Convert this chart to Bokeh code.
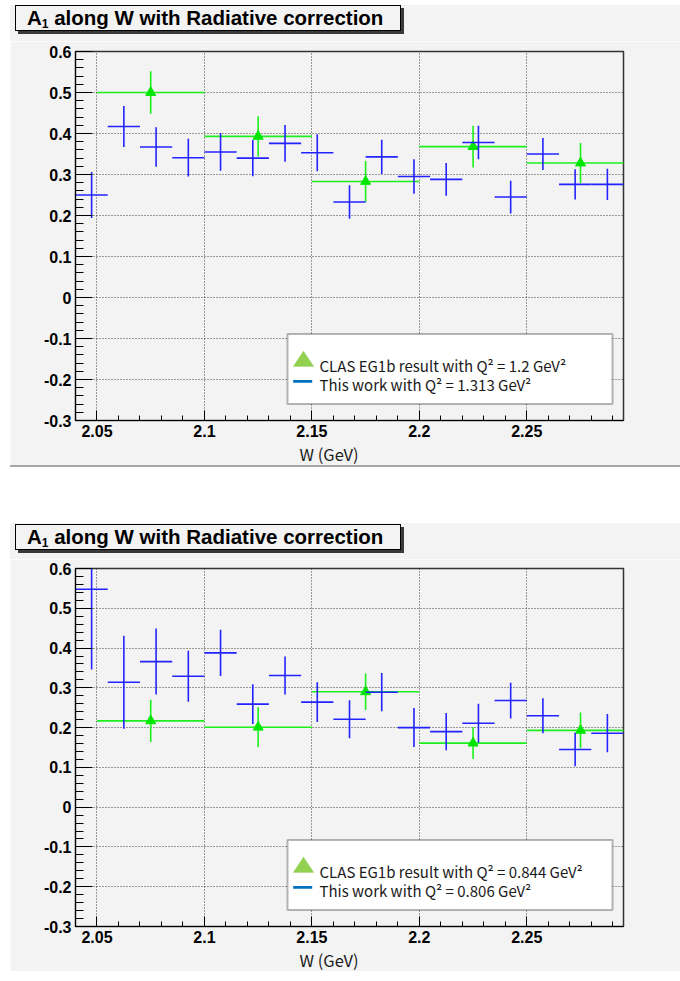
from bokeh.plotting import figure
from bokeh.models import (Label, BoxAnnotation, PolyAnnotation, Div, Spacer,
                          FixedTicker, Range1d, ColumnDataSource, Title)
from bokeh.layouts import column, row
from bokeh.embed import file_html
from bokeh.resources import INLINE

# ---------------- data ----------------
w_fine = [2.0475, 2.0625, 2.0775, 2.0925, 2.1075, 2.1225, 2.1375, 2.1525, 2.1675,
          2.1825, 2.1975, 2.2125, 2.2275, 2.2425, 2.2575, 2.2725, 2.2875]
w_coarse = [2.075, 2.125, 2.175, 2.225, 2.275]
fine_bin_width = 0.015
coarse_bin_width = 0.05

top_work_a1 = [0.250, 0.417, 0.367, 0.341, 0.355, 0.340, 0.376, 0.353, 0.233,
               0.343, 0.295, 0.288, 0.378, 0.245, 0.350, 0.276, 0.276]
top_work_err = [0.056, 0.050, 0.048, 0.046, 0.046, 0.044, 0.045, 0.045, 0.041,
                0.042, 0.042, 0.040, 0.041, 0.040, 0.039, 0.037, 0.038]
top_clas_a1 = [0.500, 0.393, 0.283, 0.368, 0.328]
top_clas_err = [0.052, 0.049, 0.050, 0.051, 0.049]

bot_work_a1 = [0.548, 0.314, 0.366, 0.329, 0.388, 0.259, 0.331, 0.264, 0.221,
               0.289, 0.200, 0.190, 0.211, 0.268, 0.230, 0.145, 0.186]
bot_work_err = [0.202, 0.117, 0.083, 0.064, 0.058, 0.050, 0.048, 0.050, 0.048,
                0.048, 0.049, 0.047, 0.049, 0.045, 0.044, 0.042, 0.048]
bot_clas_a1 = [0.217, 0.201, 0.290, 0.161, 0.193]
bot_clas_err = [0.053, 0.050, 0.046, 0.040, 0.045]

top_legend = ["CLAS EG1b result with Q\u00b2 = 1.2 GeV\u00b2",
              "This work with Q\u00b2 = 1.313 GeV\u00b2"]
bot_legend = ["CLAS EG1b result with Q\u00b2 = 0.844 GeV\u00b2",
              "This work with Q\u00b2 = 0.806 GeV\u00b2"]

title_main = "A"
title_sub = "1"
title_rest = " along W with Radiative correction"
x_label = "W (GeV)"

x_ticks = [2.05, 2.1, 2.15, 2.2, 2.25]
x_tick_labels = ["2.05", "2.1", "2.15", "2.2", "2.25"]
y_ticks = [-0.3, -0.2, -0.1, 0.0, 0.1, 0.2, 0.3, 0.4, 0.5, 0.6]
y_tick_labels = ["-0.3", "-0.2", "-0.1", "0", "0.1", "0.2", "0.3", "0.4", "0.5", "0.6"]
x_min, x_max = 2.04, 2.295
y_min, y_max = -0.3, 0.6

BG = "#f3f3f3"
BLUE = "#2323ff"
GREEN = "#1cf01c"
TICK_FONT = "Liberation Sans"
TEXT_FONT = "Noto Sans CJK KR"
PANEL_W = 670


def make_header(box_top):
    html = (
        '<div style="box-sizing:border-box;position:relative;left:5px;top:%dpx;'
        'width:386px;height:26px;'
        'border:1px solid #000;background:%s;box-shadow:3px 3px 0 #3a3a3a;'
        'padding:0 0 0 11px;font-family:\'Liberation Sans\',Arial,sans-serif;'
        'font-weight:bold;font-size:20.5px;line-height:23px;color:#000;'
        'white-space:nowrap;">%s<span style="font-size:12px;line-height:10px;'
        'position:relative;top:3px;">%s</span>%s</div>'
        % (box_top, BG, title_main, title_sub, title_rest))
    return Div(text=html, width=PANEL_W, height=36,
               styles={"background-color": BG, "margin": "0", "padding": "0"})


def make_panel(work_a1, work_err, clas_a1, clas_err, legend_texts,
               height, top_border, bottom_border):
    p = figure(width=PANEL_W, height=height, output_backend="svg", toolbar_location=None,
               x_range=Range1d(x_min, x_max), y_range=Range1d(y_min, y_max),
               min_border_left=65, min_border_right=57,
               min_border_top=top_border, min_border_bottom=bottom_border)
    p.background_fill_color = BG
    p.border_fill_color = BG
    p.outline_line_color = "#333333"
    p.outline_line_width = 1.5

    minor_x = [round(x_min + 0.01 * i, 3) for i in range(26)]
    minor_y = [round(y_min + 0.02 * i, 3) for i in range(46)]
    p.xaxis.ticker = FixedTicker(ticks=x_ticks, minor_ticks=minor_x)
    p.yaxis.ticker = FixedTicker(ticks=y_ticks, minor_ticks=minor_y)
    p.xaxis.major_label_overrides = dict(zip(x_ticks, x_tick_labels))
    p.yaxis.major_label_overrides = dict(zip(y_ticks, y_tick_labels))

    for ax in (p.xaxis[0], p.yaxis[0]):
        ax.axis_line_color = "black"
        ax.major_tick_line_color = "black"
        ax.minor_tick_line_color = "black"
        ax.major_tick_out = 0
        ax.minor_tick_out = 0
        ax.major_label_text_font = TICK_FONT
        ax.major_label_text_font_style = "bold"
        ax.major_label_text_font_size = "16px"
        ax.major_label_text_color = "black"
    p.yaxis.major_tick_in = 17
    p.yaxis.minor_tick_in = 8
    p.xaxis.major_tick_in = 10
    p.xaxis.minor_tick_in = 5
    p.yaxis.major_label_standoff = 4
    p.xaxis.major_label_standoff = 4

    for g in (p.xgrid[0], p.ygrid[0]):
        g.grid_line_color = "#222222"
        g.grid_line_alpha = 0.85
        g.grid_line_dash = "1 2"
        g.grid_line_width = 1
    p.xgrid.ticker = FixedTicker(ticks=x_ticks)
    p.ygrid.ticker = FixedTicker(ticks=y_ticks)

    # x-axis title, placed left of centre as in the original
    p.add_layout(Title(text=x_label, align="left", offset=224, standoff=0,
                       text_font=TEXT_FONT, text_font_size="16.5px",
                       text_font_style="normal", text_color="#1a1a1a"), "below")

    # CLAS EG1b (green)
    cs = ColumnDataSource(dict(
        x=w_coarse, y=clas_a1,
        x0=[w - coarse_bin_width / 2 for w in w_coarse],
        x1=[w + coarse_bin_width / 2 for w in w_coarse],
        lo=[a - e for a, e in zip(clas_a1, clas_err)],
        hi=[a + e for a, e in zip(clas_a1, clas_err)]))
    p.segment(x0="x0", y0="y", x1="x1", y1="y", source=cs, line_color=GREEN, line_width=1.6)
    p.segment(x0="x", y0="lo", x1="x", y1="hi", source=cs, line_color=GREEN, line_width=1.6)
    p.scatter(x="x", y="y", source=cs, marker="triangle", size=10,
              fill_color="#00e600", line_color="#00e600")

    # This work (blue)
    ws = ColumnDataSource(dict(
        x=w_fine, y=work_a1,
        x0=[w - fine_bin_width / 2 for w in w_fine],
        x1=[w + fine_bin_width / 2 for w in w_fine],
        lo=[a - e for a, e in zip(work_a1, work_err)],
        hi=[a + e for a, e in zip(work_a1, work_err)]))
    p.segment(x0="x0", y0="y", x1="x1", y1="y", source=ws, line_color=BLUE, line_width=1.6)
    p.segment(x0="x", y0="lo", x1="x", y1="hi", source=ws, line_color=BLUE, line_width=1.6)

    # legend (screen units relative to the frame)
    p.add_layout(BoxAnnotation(left=212, right=537, bottom=16.5, top=86.5,
                               left_units="screen", right_units="screen",
                               bottom_units="screen", top_units="screen",
                               fill_color="white", fill_alpha=1, line_color="#111111",
                               line_width=2))
    p.add_layout(PolyAnnotation(xs=[217.7, 238.3, 228.0], ys=[54.0, 54.0, 69.5],
                                xs_units="screen", ys_units="screen",
                                fill_color="#92d050", fill_alpha=1, line_color="#92d050"))
    p.add_layout(BoxAnnotation(left=217.7, right=236.7, bottom=37.7, top=40.4,
                               left_units="screen", right_units="screen",
                               bottom_units="screen", top_units="screen",
                               fill_color="#0070c0", fill_alpha=1, line_color=None))
    for txt, yb in zip(legend_texts, [55.5, 36.5]):
        p.add_layout(Label(x=244, y=yb, x_units="screen", y_units="screen",
                           text=txt, text_font=TEXT_FONT, text_font_size="15px",
                           text_color="#1a1a1a", text_align="left",
                           text_baseline="alphabetic"))
    return p


h1 = make_header(0)
p1 = make_panel(top_work_a1, top_work_err, top_clas_a1, top_clas_err, top_legend,
                height=424, top_border=10, bottom_border=44)
h2 = make_header(1)
p2 = make_panel(bot_work_a1, bot_work_err, bot_clas_a1, bot_clas_err, bot_legend,
                height=412, top_border=9, bottom_border=32)

sep = Div(text="", width=PANEL_W, height=2,
          styles={"background-color": "#a6a6a6", "margin": "0", "padding": "0"})
main = column(Spacer(width=PANEL_W, height=5), h1, p1, sep,
              Spacer(width=PANEL_W, height=56), h2, p2)
layout = row(Spacer(width=10, height=10), main)

open("out.html", "w").write(file_html(layout, INLINE))
